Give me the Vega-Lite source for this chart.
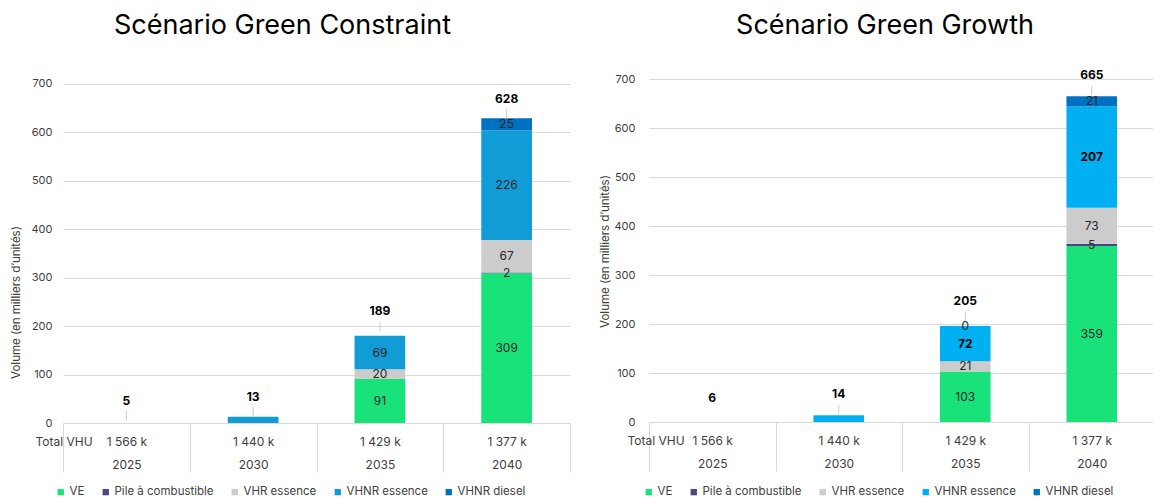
{
  "$schema": "https://vega.github.io/schema/vega-lite/v6.json",
  "padding": {"left": 10, "top": 11, "right": 0, "bottom": 0},
  "spacing": 28,
  "align": "none",
  "config": {
    "font": "Inter",
    "view": {"stroke": null},
    "title": {"font": "Inter", "fontSize": 27, "fontWeight": "normal", "color": "#000000", "baseline": "alphabetic", "anchor": "middle", "frame": "group"},
    "axis": {"labelFont": "Inter", "titleFont": "Inter", "labelColor": "#404040", "titleColor": "#404040"},
    "legend": {"labelFont": "Inter", "padding": 0}
  },
  "datasets": {
    "gc": [
      {"year": "2030", "vhu": "1 440 k", "series": "VHNR essence", "value": 13},
      {"year": "2035", "vhu": "1 429 k", "series": "VE", "value": 91},
      {"year": "2035", "vhu": "1 429 k", "series": "VHR essence", "value": 20},
      {"year": "2035", "vhu": "1 429 k", "series": "VHNR essence", "value": 69},
      {"year": "2040", "vhu": "1 377 k", "series": "VE", "value": 309},
      {"year": "2040", "vhu": "1 377 k", "series": "Pile à combustible", "value": 2},
      {"year": "2040", "vhu": "1 377 k", "series": "VHR essence", "value": 67},
      {"year": "2040", "vhu": "1 377 k", "series": "VHNR essence", "value": 226},
      {"year": "2040", "vhu": "1 377 k", "series": "VHNR diesel", "value": 25}
    ],
    "gc_tot": [
      {"year": "2025", "vhu": "1 566 k", "total": 5},
      {"year": "2030", "vhu": "1 440 k", "total": 13},
      {"year": "2035", "vhu": "1 429 k", "total": 189},
      {"year": "2040", "vhu": "1 377 k", "total": 628}
    ],
    "gg": [
      {"year": "2030", "vhu": "1 440 k", "series": "VHNR essence", "value": 14},
      {"year": "2035", "vhu": "1 429 k", "series": "VE", "value": 103},
      {"year": "2035", "vhu": "1 429 k", "series": "VHR essence", "value": 21},
      {"year": "2035", "vhu": "1 429 k", "series": "VHNR essence", "value": 72},
      {"year": "2035", "vhu": "1 429 k", "series": "VHNR diesel", "value": 0},
      {"year": "2040", "vhu": "1 377 k", "series": "VE", "value": 359},
      {"year": "2040", "vhu": "1 377 k", "series": "Pile à combustible", "value": 5},
      {"year": "2040", "vhu": "1 377 k", "series": "VHR essence", "value": 73},
      {"year": "2040", "vhu": "1 377 k", "series": "VHNR essence", "value": 207},
      {"year": "2040", "vhu": "1 377 k", "series": "VHNR diesel", "value": 21}
    ],
    "gg_tot": [
      {"year": "2025", "vhu": "1 566 k", "total": 6},
      {"year": "2030", "vhu": "1 440 k", "total": 14},
      {"year": "2035", "vhu": "1 429 k", "total": 205},
      {"year": "2040", "vhu": "1 377 k", "total": 665}
    ]
  },
  "hconcat": [
    {
      "title": {"text": "Scénario Green Constraint", "offset": 38, "dx": -34},
      "width": 507,
      "height": 344,
      "encoding": {
        "x": {
          "field": "cat", "type": "nominal", "sort": "ascending",
          "scale": {"paddingInner": 0, "paddingOuter": 0},
          "axis": {
            "title": "Total VHU", "titleX": -28, "titleY": 18, "titleAlign": "left", "titleBaseline": "middle", "titleAngle": 0,
            "titleFontSize": 12, "titleFontWeight": "normal",
            "labelAngle": 0, "labelExpr": "datum.value == null ? '' : [split(datum.value,'|')[1], split(datum.value,'|')[0]]",
            "labelLineHeight": 23, "labelBaseline": "top", "labelPadding": -36, "labelFontSize": 12, "labelOverlap": false,
            "tickBand": "extent", "tickSize": 49, "tickColor": "#D9D9D9", "domainColor": "#D9D9D9"
          }
        }
      },
      "layer": [
        {
          "data": {"name": "gc"},
          "transform": [
            {"calculate": "indexof(['VE','Pile à combustible','VHR essence','VHNR essence','VHNR diesel'], datum.series)", "as": "ord"},
            {"stack": "value", "groupby": ["year"], "sort": [{"field": "ord", "order": "ascending"}], "as": ["v0", "v1"]},
            {"calculate": "datum.year + '|' + datum.vhu", "as": "cat"}
          ],
          "mark": {"type": "bar", "width": {"band": 0.4}},
          "encoding": {
            "y": {
              "field": "v1", "type": "quantitative", "scale": {"domain": [0, 710.3], "nice": false},
              "axis": {
                "values": [0, 100, 200, 300, 400, 500, 600, 700], "domain": false, "ticks": false, "grid": true, "gridColor": "#D9D9D9",
                "labelPadding": 11, "labelFontSize": 11,
                "title": "Volume (en  milliers d’unités)", "titleFontSize": 11.5, "titleFontWeight": "normal",
                "titleX": -47, "titleY": 223, "titleAngle": -90, "titleBaseline": "middle", "titleAlign": "center"
              }
            },
            "y2": {"field": "v0"},
            "color": {
              "field": "series", "type": "nominal",
              "scale": {"domain": ["VE", "Pile à combustible", "VHR essence", "VHNR essence", "VHNR diesel"], "range": ["#1AE27A", "#4B467F", "#CCCCCC", "#129CD6", "#0070C0"]},
              "legend": {"orient": "none", "legendX": -8, "legendY": 407, "direction": "horizontal", "columns": 5, "title": null, "symbolType": "square", "symbolSize": 40, "symbolStrokeWidth": 0, "labelFontSize": 11.5, "labelColor": "#404040", "columnPadding": 15, "labelOffset": 3}
            }
          }
        },
        {
          "data": {"name": "gc"},
          "transform": [
            {"calculate": "indexof(['VE','Pile à combustible','VHR essence','VHNR essence','VHNR diesel'], datum.series)", "as": "ord"},
            {"stack": "value", "groupby": ["year"], "sort": [{"field": "ord", "order": "ascending"}], "as": ["v0", "v1"]},
            {"calculate": "datum.year + '|' + datum.vhu", "as": "cat"},
            {"filter": "datum.year != '2030'"},
            {"calculate": "(datum.v0 + datum.v1) / 2", "as": "mid"}
          ],
          "mark": {"type": "text", "fontSize": 12, "color": "#262626"},
          "encoding": {
            "y": {"field": "mid", "type": "quantitative", "title": "Volume (en  milliers d’unités)"},
            "text": {"field": "value", "type": "quantitative"}
          }
        },
        {
          "data": {"name": "gc_tot"},
          "transform": [{"calculate": "datum.year + '|' + datum.vhu", "as": "cat"}],
          "mark": {"type": "rule", "yOffset": -10, "y2Offset": 0, "color": "#BFBFBF", "strokeWidth": 0.8},
          "encoding": {
            "y": {"field": "total", "type": "quantitative", "title": "Volume (en  milliers d’unités)"},
            "y2": {"field": "total"}
          }
        },
        {
          "data": {"name": "gc_tot"},
          "transform": [{"calculate": "datum.year + '|' + datum.vhu", "as": "cat"}],
          "mark": {"type": "text", "dy": -20, "fontSize": 12, "fontWeight": "bold", "color": "#000000"},
          "encoding": {
            "y": {"field": "total", "type": "quantitative", "title": "Volume (en  milliers d’unités)"},
            "text": {"field": "total", "type": "quantitative"}
          }
        }
      ]
    },
    {
      "title": {"text": "Scénario Green Growth", "offset": 29, "dx": -17},
      "width": 506,
      "height": 343,
      "encoding": {
        "x": {
          "field": "cat", "type": "nominal", "sort": "ascending",
          "scale": {"paddingInner": 0, "paddingOuter": 0},
          "axis": {
            "title": "Total VHU", "titleX": -22, "titleY": 18, "titleAlign": "left", "titleBaseline": "middle", "titleAngle": 0,
            "titleFontSize": 12, "titleFontWeight": "normal",
            "labelAngle": 0, "labelExpr": "datum.value == null ? '' : [split(datum.value,'|')[1], split(datum.value,'|')[0]]",
            "labelLineHeight": 23, "labelBaseline": "top", "labelPadding": -36, "labelFontSize": 12, "labelOverlap": false,
            "tickBand": "extent", "tickSize": 49, "tickColor": "#D9D9D9", "domainColor": "#D9D9D9"
          }
        }
      },
      "layer": [
        {
          "data": {"name": "gg"},
          "transform": [
            {"calculate": "indexof(['VE','Pile à combustible','VHR essence','VHNR essence','VHNR diesel'], datum.series)", "as": "ord"},
            {"stack": "value", "groupby": ["year"], "sort": [{"field": "ord", "order": "ascending"}], "as": ["v0", "v1"]},
            {"calculate": "datum.year + '|' + datum.vhu", "as": "cat"}
          ],
          "mark": {"type": "bar", "width": {"band": 0.4}},
          "encoding": {
            "y": {
              "field": "v1", "type": "quantitative", "scale": {"domain": [0, 700], "nice": false},
              "axis": {
                "values": [0, 100, 200, 300, 400, 500, 600, 700], "domain": false, "ticks": false, "grid": true, "gridColor": "#D9D9D9",
                "labelPadding": 14, "labelFontSize": 11,
                "title": "Volume (en  milliers d’unités)", "titleFontSize": 11.5, "titleFontWeight": "normal",
                "titleX": -44, "titleY": 172, "titleAngle": -90, "titleBaseline": "middle", "titleAlign": "center"
              }
            },
            "y2": {"field": "v0"},
            "color": {
              "field": "series", "type": "nominal",
              "scale": {"domain": ["VE", "Pile à combustible", "VHR essence", "VHNR essence", "VHNR diesel"], "range": ["#1AE27A", "#4B467F", "#CCCCCC", "#00B0F0", "#0070C0"]},
              "legend": {"orient": "none", "legendX": -6, "legendY": 407, "direction": "horizontal", "columns": 5, "title": null, "symbolType": "square", "symbolSize": 40, "symbolStrokeWidth": 0, "labelFontSize": 11.5, "labelColor": "#404040", "columnPadding": 15, "labelOffset": 3}
            }
          }
        },
        {
          "data": {"name": "gg"},
          "transform": [
            {"calculate": "indexof(['VE','Pile à combustible','VHR essence','VHNR essence','VHNR diesel'], datum.series)", "as": "ord"},
            {"stack": "value", "groupby": ["year"], "sort": [{"field": "ord", "order": "ascending"}], "as": ["v0", "v1"]},
            {"calculate": "datum.year + '|' + datum.vhu", "as": "cat"},
            {"filter": "datum.year != '2030' && datum.series != 'VHNR essence'"},
            {"calculate": "(datum.v0 + datum.v1) / 2", "as": "mid"}
          ],
          "mark": {"type": "text", "fontSize": 12, "color": "#262626"},
          "encoding": {
            "y": {"field": "mid", "type": "quantitative", "title": "Volume (en  milliers d’unités)"},
            "text": {"field": "value", "type": "quantitative"}
          }
        },
        {
          "data": {"name": "gg"},
          "transform": [
            {"calculate": "indexof(['VE','Pile à combustible','VHR essence','VHNR essence','VHNR diesel'], datum.series)", "as": "ord"},
            {"stack": "value", "groupby": ["year"], "sort": [{"field": "ord", "order": "ascending"}], "as": ["v0", "v1"]},
            {"calculate": "datum.year + '|' + datum.vhu", "as": "cat"},
            {"filter": "datum.year != '2030' && datum.series == 'VHNR essence'"},
            {"calculate": "(datum.v0 + datum.v1) / 2", "as": "mid"}
          ],
          "mark": {"type": "text", "fontSize": 12, "fontWeight": "bold", "color": "#000000"},
          "encoding": {
            "y": {"field": "mid", "type": "quantitative", "title": "Volume (en  milliers d’unités)"},
            "text": {"field": "value", "type": "quantitative"}
          }
        },
        {
          "data": {"name": "gg_tot"},
          "transform": [{"calculate": "datum.year + '|' + datum.vhu", "as": "cat"}, {"filter": "datum.year != '2025'"}],
          "mark": {"type": "rule", "yOffset": -10, "y2Offset": -1, "color": "#BFBFBF", "strokeWidth": 0.8},
          "encoding": {
            "y": {"field": "total", "type": "quantitative", "title": "Volume (en  milliers d’unités)"},
            "y2": {"field": "total"}
          }
        },
        {
          "data": {"name": "gg_tot"},
          "transform": [{"calculate": "datum.year + '|' + datum.vhu", "as": "cat"}],
          "mark": {"type": "text", "dy": -21, "fontSize": 12, "fontWeight": "bold", "color": "#000000"},
          "encoding": {
            "y": {"field": "total", "type": "quantitative", "title": "Volume (en  milliers d’unités)"},
            "text": {"field": "total", "type": "quantitative"}
          }
        }
      ]
    }
  ],
  "resolve": {"scale": {"color": "independent", "x": "independent", "y": "independent"}, "legend": {"color": "independent"}}
}
